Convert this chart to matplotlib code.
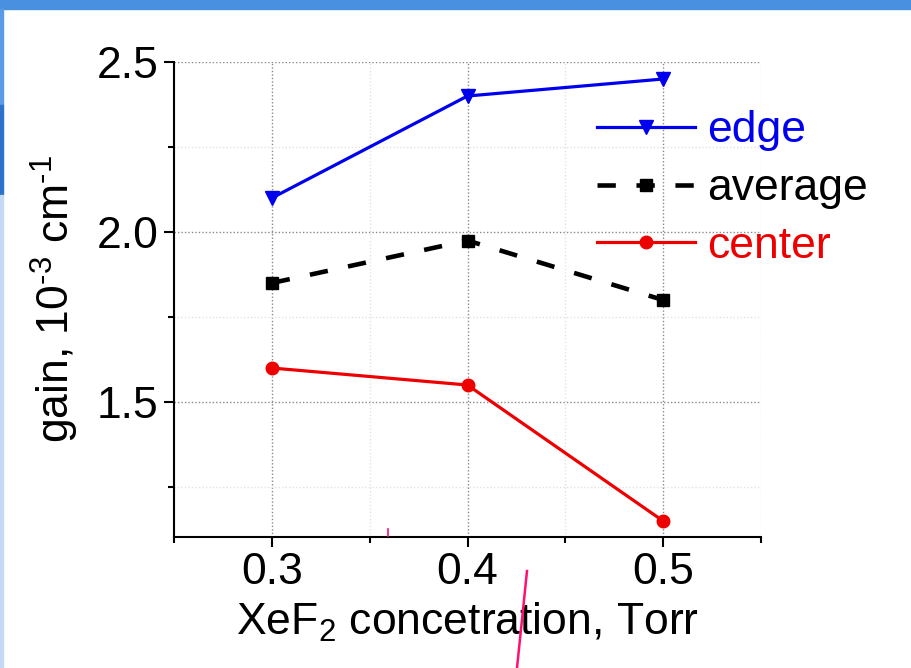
import matplotlib
matplotlib.use("Agg")
import matplotlib.pyplot as plt
from matplotlib.patches import Rectangle
from matplotlib.lines import Line2D
from matplotlib.ticker import MultipleLocator

plt.rcParams["font.family"] = ["Liberation Sans", "DejaVu Sans"]
plt.rcParams["mathtext.default"] = "regular"

# XeF2 concentration, Torr
concentration = [0.3, 0.4, 0.5]

# gain, 10^-3 cm^-1
gain_edge = [2.10, 2.40, 2.45]
gain_average = [1.85, 1.975, 1.80]
gain_center = [1.60, 1.55, 1.15]

x_ticks = [0.3, 0.4, 0.5]
y_ticks = [1.5, 2.0, 2.5]

FS = 32

fig = plt.figure(figsize=(9.12, 6.68), dpi=100)
fig.patch.set_facecolor("white")

# slide decoration around the chart
fig.patches.append(Rectangle((0, 1 - 9 / 668), 1, 9 / 668, transform=fig.transFigure,
                             color="#4a90e0", zorder=0))
fig.patches.append(Rectangle((0, 1 - 105 / 668), 3 / 912, 96 / 668, transform=fig.transFigure,
                             color="#5a9ae6", zorder=0))
fig.patches.append(Rectangle((0, 1 - 195 / 668), 3 / 912, 90 / 668, transform=fig.transFigure,
                             color="#2c72cc", zorder=0))
fig.patches.append(Rectangle((0, 0), 3 / 912, 1 - 195 / 668, transform=fig.transFigure,
                             color="#c4d9f3", zorder=0))

ax = fig.add_axes([174 / 912, 1 - 537 / 668, 587 / 912, 475 / 668])

ax.plot(concentration, gain_edge, color="#0000ee", lw=2.3, marker="v", ms=10,
        label="edge", zorder=3)
ax.plot(concentration, gain_average, color="black", lw=3.3, marker="s", ms=8,
        dashes=(4, 4.5), label="average", zorder=3)
ax.plot(concentration, gain_center, color="#ee0000", lw=2.3, marker="o", ms=9,
        label="center", zorder=3)

ax.set_xlim(0.25, 0.55)
ax.set_ylim(1.103, 2.5)
ax.set_xticks(x_ticks)
ax.set_xticklabels([f"{v:.1f}" for v in x_ticks])
ax.set_yticks(y_ticks)
ax.set_yticklabels([f"{v:.1f}" for v in y_ticks])
ax.xaxis.set_minor_locator(MultipleLocator(0.05))
ax.yaxis.set_minor_locator(MultipleLocator(0.25))

ax.grid(which="major", color="#8a8a8a", linestyle=(0, (1, 1.5)), lw=1.0)
ax.grid(which="minor", color="#e2e2e2", linestyle=(0, (1, 1.5)), lw=1.0)

for side in ["top", "right"]:
    ax.spines[side].set_visible(False)
for side in ["left", "bottom"]:
    ax.spines[side].set_linewidth(1.5)

ax.tick_params(which="major", direction="out", length=7, width=1.5, labelsize=FS, pad=4)
ax.tick_params(which="minor", direction="out", length=4, width=1.5)

ax.set_xlabel("XeF$_2$ concetration, Torr", fontsize=FS)
ax.set_ylabel("gain, 10$^{\u2010 3}$ cm$^{\u2010 1}$", fontsize=FS)
ax.xaxis.set_label_coords(0.5, -0.135)
ax.yaxis.set_label_coords(-0.158, 0.5)

leg = ax.legend(loc="upper left", bbox_to_anchor=(575 / 912, 1 - 88 / 668),
                bbox_transform=fig.transFigure, frameon=False, fontsize=FS,
                handlelength=2.2, handletextpad=0.27, labelspacing=0.38,
                borderpad=0, numpoints=1)
for text, line in zip(leg.get_texts(), leg.get_lines()):
    text.set_color(line.get_color())

# pink pen stroke over the lower part of the slide
fig.add_artist(Line2D([527 / 912, 517 / 912], [1 - 571 / 668, 0], transform=fig.transFigure,
                      color="#ff1070", lw=1.8))
fig.add_artist(Line2D([388 / 912, 388 / 912], [1 - 529 / 668, 1 - 536 / 668],
                      transform=fig.transFigure, color="#ff1070", lw=1.2))

fig.savefig("out.png", dpi=100)
